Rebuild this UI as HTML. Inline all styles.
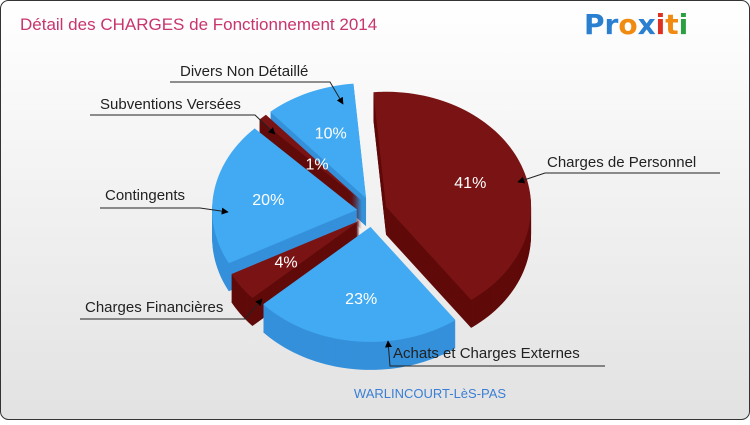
<!DOCTYPE html>
<html><head><meta charset="utf-8"><style>
body{margin:0;width:750px;height:420px;overflow:hidden;font-family:"Liberation Sans",sans-serif}
</style></head><body>
<svg width="750" height="420" xmlns="http://www.w3.org/2000/svg">
<defs><linearGradient id="bg" x1="0" y1="0" x2="0" y2="1"><stop offset="0" stop-color="#ffffff"/><stop offset="1" stop-color="#e2e2e2"/></linearGradient>
<marker id="ar" viewBox="0 0 10 10" refX="9" refY="5" markerWidth="7" markerHeight="7" orient="auto"><path d="M0,0L10,5L0,10z" fill="#000"/></marker></defs>
<rect x="0.5" y="0.5" width="749" height="419" rx="8" fill="url(#bg)" stroke="#333"/>
<text x="20" y="30" font-size="17" fill="#c8346e">Détail des CHARGES de Fonctionnement 2014</text>
<text x="584" y="34" font-size="28" font-weight="bold" font-family="DejaVu Sans,sans-serif"><tspan fill="#2a7fd0">Pr</tspan><tspan fill="#f08a10">o</tspan><tspan fill="#2a7fd0">x</tspan><tspan fill="#e03020">i</tspan><tspan fill="#f08a10">t</tspan><tspan fill="#2aa040">i</tspan></text>
<g id="pie"></g>
<g id="labels" font-size="15" fill="#222"></g>
<text x="430" y="398" font-size="13" fill="#3a7fd5" text-anchor="middle">WARLINCOURT-LèS-PAS</text>
</svg>
<script>
const categories=["Charges de Personnel","Achats et Charges Externes","Charges Financières","Contingents","Subventions Versées","Divers Non Détaillé"];
const values=[41,23,4,20,1,10];
const pctLabels=["41%","23%","4%","20%","1%","10%"];
const NS="http://www.w3.org/2000/svg";
const cx=372,cy=212,rx=145,ry=115,depth=28,expl=15,startAng=-95;
const topCol=["#7a1414","#42aaf2","#7a1414","#42aaf2","#7a1414","#42aaf2"];
const sideCol=["#600a0a","#3590da","#600a0a","#3590da","#600a0a","#3590da"];
const total=values.reduce((a,b)=>a+b,0);
const pie=document.getElementById('pie');
let ang=startAng;const sl=[];
values.forEach((v,i)=>{const s=ang,e=ang+v/total*360;ang=e;sl.push({i,s,e,m:(s+e)/2});});
function path(s,e,ox,oy){const r=Math.PI/180;let d=`M${ox},${oy}`;
 for(let t=s;t<=e;t+=2){d+=`L${ox+rx*Math.cos(t*r)},${oy+ry*Math.sin(t*r)}`;}
 d+=`L${ox+rx*Math.cos(e*r)},${oy+ry*Math.sin(e*r)}Z`;return d;}
sl.slice().sort((p,q)=>Math.sin(p.m*Math.PI/180)-Math.sin(q.m*Math.PI/180)).forEach(o=>{
 const r=Math.PI/180,ox=cx+expl*Math.cos(o.m*r),oy=cy+expl*Math.sin(o.m*r);
 const g=document.createElementNS(NS,'g');
 
 
 for(let k=depth;k>0;k-=1){const p=document.createElementNS(NS,'path');p.setAttribute('d',path(o.s,o.e,ox,oy+k));p.setAttribute('fill',sideCol[o.i]);g.appendChild(p);}
 const p=document.createElementNS(NS,'path');p.setAttribute('d',path(o.s,o.e,ox,oy));p.setAttribute('fill',topCol[o.i]);g.appendChild(p);
 const t=document.createElementNS(NS,'text');
 
 
 const f=o.e-o.s<10?0.45:0.62;
 t.setAttribute('x',ox+rx*f*Math.cos(o.m*r));t.setAttribute('y',oy+ry*f*Math.sin(o.m*r)+6);
 t.setAttribute('fill','#fff');t.setAttribute('font-size','16');t.setAttribute('text-anchor','middle');
 t.textContent=pctLabels[o.i];g.appendChild(t);pie.appendChild(g);});
const L=document.getElementById('labels');
const lab=[[0,547,167,"M720,173L545,173L518,182"],[1,393,358,"M605,366L390,366L388,341"],[2,85,312,"M80,319L245,319L262,299"],[3,105,200,"M100,208L200,208L228,212"],[4,100,109,"M90,115L255,115L275,134"],[5,180,76,"M170,82L330,82L343,104"]];
lab.forEach(l=>{const t=document.createElementNS(NS,'text');
 
 
 t.setAttribute('x',l[1]);t.setAttribute('y',l[2]);t.textContent=categories[l[0]];L.appendChild(t);
 const p=document.createElementNS(NS,'path');
 
 
 p.setAttribute('d',l[3]);p.setAttribute('fill','none');p.setAttribute('stroke','#222');p.setAttribute('marker-end','url(#ar)');L.appendChild(p);});
</script>
</body></html>
